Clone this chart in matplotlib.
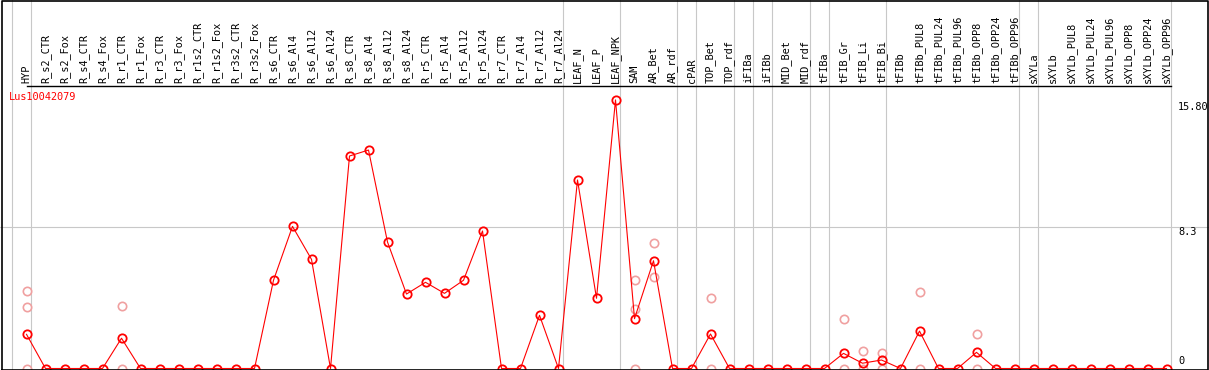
import matplotlib
matplotlib.use("Agg")
import matplotlib.pyplot as plt

# Samples (x categories)
samples = ["HYP", "R_s2_CTR", "R_s2_Fox", "R_s4_CTR", "R_s4_Fox", "R_r1_CTR", "R_r1_Fox",
           "R_r3_CTR", "R_r3_Fox", "R_r1s2_CTR", "R_r1s2_Fox", "R_r3s2_CTR", "R_r3s2_Fox",
           "R_s6_CTR", "R_s6_Al4", "R_s6_Al12", "R_s6_Al24", "R_s8_CTR", "R_s8_Al4",
           "R_s8_Al12", "R_s8_Al24", "R_r5_CTR", "R_r5_Al4", "R_r5_Al12", "R_r5_Al24",
           "R_r7_CTR", "R_r7_Al4", "R_r7_Al12", "R_r7_Al24", "LEAF_N", "LEAF_P", "LEAF_NPK",
           "SAM", "AR_Bet", "AR_rdf", "cPAR", "TOP_Bet", "TOP_rdf", "iFIBa", "iFIBb",
           "MID_Bet", "MID_rdf", "tFIBa", "tFIB_Gr", "tFIB_Li", "tFIB_Bi", "tFIBb",
           "tFIBb_PUL8", "tFIBb_PUL24", "tFIBb_PUL96", "tFIBb_OPP8", "tFIBb_OPP24",
           "tFIBb_OPP96", "sXYLa", "sXYLb", "sXYLb_PUL8", "sXYLb_PUL24", "sXYLb_PUL96",
           "sXYLb_OPP8", "sXYLb_OPP24", "sXYLb_OPP96"]

# mean expression per sample
means = [2.01, 0, 0, 0, 0, 1.78, 0, 0, 0, 0, 0, 0, 0,
         5.19, 8.36, 6.42, 0, 12.5, 12.85, 7.44, 4.38, 5.07, 4.42, 5.19, 8.09,
         0, 0, 3.13, 0, 11.09, 4.13, 15.8,
         2.93, 6.34, 0, 0, 2.03, 0, 0, 0, 0, 0, 0, 0.89, 0.31, 0.5, 0,
         2.2, 0, 0, 0.95, 0, 0, 0, 0, 0, 0, 0, 0, 0, 0]

# individual replicates (only where they differ from the mean)
rep_samples = ["HYP", "HYP", "HYP", "R_r1_CTR", "R_r1_CTR", "SAM", "SAM", "SAM",
               "AR_Bet", "AR_Bet", "TOP_Bet", "TOP_Bet", "tFIB_Gr", "tFIB_Gr",
               "tFIB_Li", "tFIB_Li", "tFIB_Bi", "tFIB_Bi", "tFIBb_PUL8", "tFIBb_PUL8",
               "tFIBb_OPP8", "tFIBb_OPP8"]
rep_values = [4.54, 3.6, 0, 3.66, 0, 5.19, 3.5, 0,
              7.36, 5.4, 4.13, 0, 2.89, 0,
              1.01, 0, 0.91, 0, 4.48, 0,
              2.03, 0]

# last sample of each group (gray separators drawn after them)
group_ends = [-1, 0, 28, 31, 34, 35, 37, 38, 39, 41, 42, 45, 52, 53, 60]

gene = "Lus10042079"
max_label = "15.80"
mid_value = 8.3

W, H = 1209, 370
fig = plt.figure(figsize=(W / 100, H / 100), dpi=100)
ax = fig.add_axes([0, 0, 1, 1])
ax.set_axis_off()

step = 19.0       # px per sample
x0 = 26.5         # px of first sample
unit = 17.0       # px per expression unit
y0 = 368.5        # px (from top) of zero
ax.set_xlim(-x0 / step, (W - x0) / step)
ax.set_ylim((y0 - H) / unit, y0 / unit)

gray = "#c8c8c8"
font = dict(family="DejaVu Sans Mono", fontsize=7.4)
xt = ax.get_xaxis_transform()

# separators and mid grid line
for k in group_ends:
    ax.axvline(k + 4 / step, color=gray, lw=0.8, zorder=1)
ax.axhline(mid_value, color=gray, lw=0.8, zorder=1)

# black frame and header separator
ax.plot([1.5 / W, 1.5 / W, (W - 1.5) / W, (W - 1.5) / W, 1.5 / W],
        [0.5 / H, 1 - 0.5 / H, 1 - 0.5 / H, 0.5 / H, 0.5 / H],
        color="black", lw=1.2, transform=ax.transAxes, clip_on=False, zorder=5)
sep = 1 - 85.5 / H
ax.plot([0, (group_ends[-1] + 4 / step)], [sep, sep], color="black", lw=1.0,
        transform=xt, clip_on=False, zorder=5)

# sample labels
for i, s in enumerate(samples):
    ax.text(i, 1 - 83 / H, s, rotation=90, ha="center", va="bottom",
            transform=xt, color="black", **font)

xs = list(range(len(samples)))
rep_x = [samples.index(s) for s in rep_samples]

ax.plot(rep_x, rep_values, linestyle="none", marker="o", ms=6.0, mfc="none",
        mec="#f0a0a0", mew=1.2, zorder=3)
ax.plot(xs, means, color="red", lw=0.8, marker="o", ms=6.0, mfc="none",
        mec="red", mew=1.3, zorder=4)

# gene name and value labels
ax.text((9 - x0) / step, 1 - 97 / H, gene, color="red", ha="left", va="center",
        transform=xt, **font)
lx = (1178 - x0) / step
ax.text(lx, 15.8 - 2.5 / unit, max_label, ha="left", va="top", color="black", **font)
ax.text(lx, mid_value, f"{mid_value}", ha="left", va="top", color="black", **font)
ax.text(lx, 3 / unit, "0", ha="left", va="bottom", color="black", **font)

fig.savefig("out.png", dpi=100)
